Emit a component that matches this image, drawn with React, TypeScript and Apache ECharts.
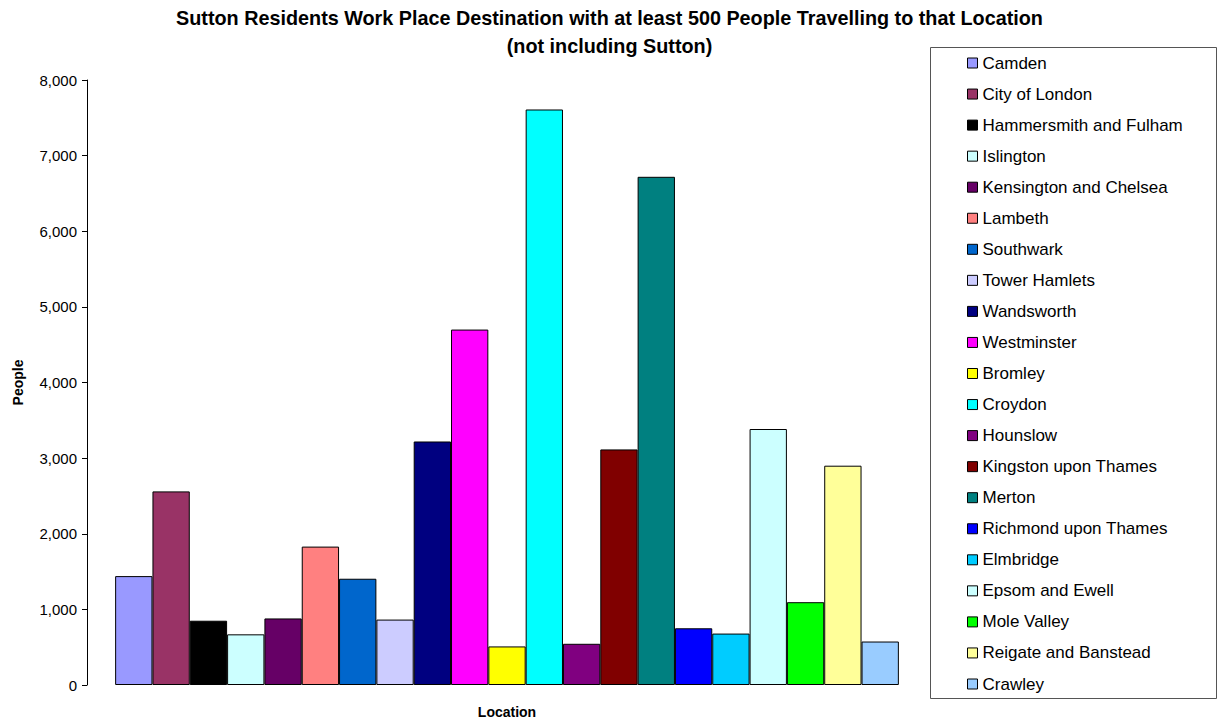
import React, { useEffect, useRef } from "react";
import * as echarts from "echarts";

const locations: string[] = [
  "Camden", "City of London", "Hammersmith and Fulham", "Islington", "Kensington and Chelsea",
  "Lambeth", "Southwark", "Tower Hamlets", "Wandsworth", "Westminster", "Bromley", "Croydon",
  "Hounslow", "Kingston upon Thames", "Merton", "Richmond upon Thames", "Elmbridge",
  "Epsom and Ewell", "Mole Valley", "Reigate and Banstead", "Crawley",
];
const people: number[] = [
  1440, 2560, 850, 670, 880, 1830, 1405, 865, 3220, 4700, 510, 7610,
  545, 3115, 6720, 750, 680, 3385, 1095, 2900, 575,
];
const colors: string[] = [
  "#9999FF", "#993366", "#000000", "#CCFFFF", "#660066", "#FF8080", "#0066CC", "#CCCCFF",
  "#000080", "#FF00FF", "#FFFF00", "#00FFFF", "#800080", "#800000", "#008080", "#0000FF",
  "#00CCFF", "#CCFFFF", "#00FF00", "#FFFF99", "#99CCFF",
];
const categories: string[] = [""];
const yTicks = { min: 0, max: 8000, interval: 1000 };

const FONT = "'Liberation Sans', Arial, Helvetica, sans-serif";

export default function App() {
  const ref = useRef<HTMLDivElement>(null);
  useEffect(() => {
    if (!ref.current) return;
    const chart = echarts.init(ref.current, null, { renderer: "svg" });
    chart.setOption({
      animation: false,
      backgroundColor: "#ffffff",
      textStyle: { fontFamily: FONT },
      title: {
        text: "Sutton Residents Work Place Destination with at least 500 People Travelling to that Location\n(not including Sutton)",
        left: "center",
        top: 0,
        padding: [4, 5, 5, 5],
        textStyle: { fontFamily: FONT, fontSize: 19.8, fontWeight: "bold", color: "#000", lineHeight: 28 },
      },
      grid: { left: 87, right: 292, top: 80, bottom: 33 },
      xAxis: {
        type: "category",
        data: categories,
        axisLine: { show: false },
        axisTick: { show: false },
        axisLabel: { show: false },
        name: "Location",
        nameLocation: "middle",
        nameGap: 20,
        nameTextStyle: { fontFamily: FONT, fontSize: 14, fontWeight: "bold", color: "#000" },
      },
      yAxis: {
        type: "value",
        min: yTicks.min,
        max: yTicks.max,
        interval: yTicks.interval,
        axisLine: { show: true, lineStyle: { color: "#000", width: 1 } },
        axisTick: { show: true, length: 5, lineStyle: { color: "#000" } },
        splitLine: { show: false },
        axisLabel: {
          fontFamily: FONT, fontSize: 15, color: "#000", margin: 10,
          formatter: (v: number) => v.toLocaleString("en-GB"),
        },
        name: "People",
        nameLocation: "middle",
        nameGap: 62,
        nameTextStyle: { fontFamily: FONT, fontSize: 14, fontWeight: "bold", color: "#000" },
      },
      legend: {
        orient: "vertical",
        left: 962,
        top: 48,
        itemWidth: 10,
        itemHeight: 10,
        itemGap: 11.05,
        icon: "rect",
        itemStyle: { borderColor: "#000", borderWidth: 1 },
        textStyle: { fontFamily: FONT, fontSize: 17, color: "#000", lineHeight: 20 },
        data: locations,
      },
      graphic: [
        {
          type: "rect",
          shape: { x: 930.5, y: 47.5, width: 286, height: 651 },
          style: { fill: "none", stroke: "#555", lineWidth: 1 },
          silent: true,
        },
      ],
      series: locations.map((name, i) => ({
        name,
        type: "bar",
        data: [people[i]],
        barGap: "0%",
        barCategoryGap: "6.7%",
        itemStyle: { color: colors[i], borderColor: "#000", borderWidth: 1 },
      })),
    });
    return () => chart.dispose();
  }, []);
  return (
    <div
      ref={ref}
      style={{ position: "absolute", left: 0, top: 0, width: 1219, height: 724 }}
    />
  );
}
